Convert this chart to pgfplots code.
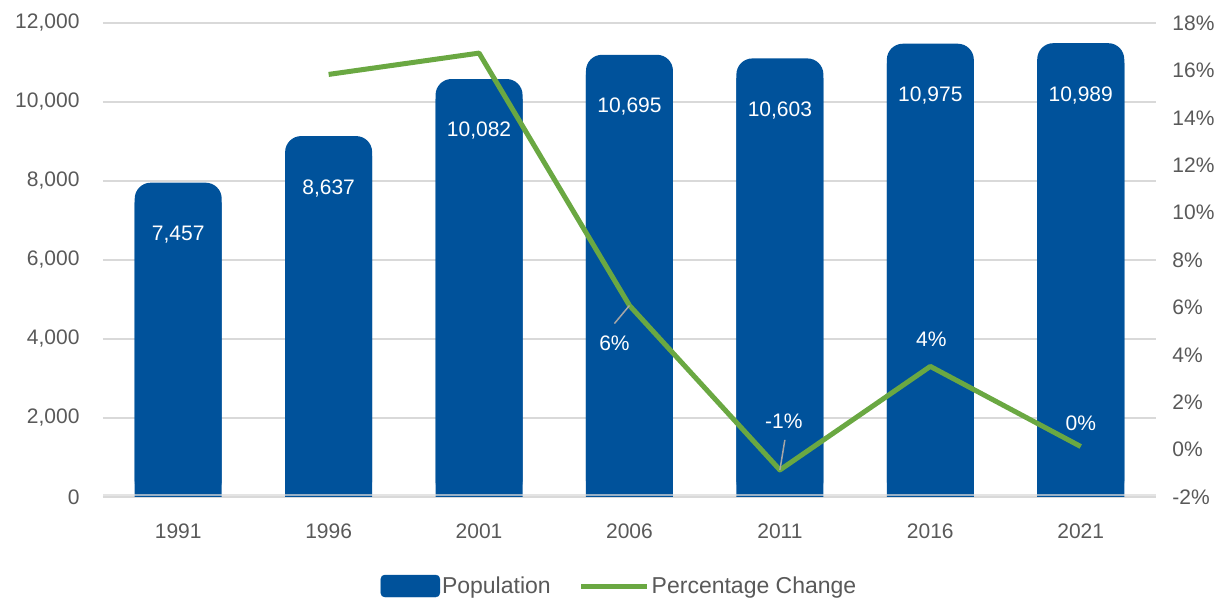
\documentclass[border=0pt]{standalone}
\usepackage{pgfplots}
\pgfplotsset{compat=1.18}
\usepackage{pgfplotstable}
\usepackage{fontspec}
\setmainfont{Liberation Sans}
\definecolor{popblue}{RGB}{0,82,155}
\definecolor{pctgreen}{RGB}{106,168,66}
\definecolor{gridgrey}{RGB}{217,217,217}
\definecolor{ticktext}{RGB}{89,89,89}
\definecolor{leadergrey}{RGB}{166,166,166}

\pgfplotstableread{
x year pop
0 1991 7457
1 1996 8637
2 2001 10082
3 2006 10695
4 2011 10603
5 2016 10975
6 2021 10989
}\popdata

\pgfplotstableread{
x pct
1 15.83
2 16.73
3 6.08
4 -0.86
5 3.51
6 0.13
}\pctdata

\begin{document}
\begin{tikzpicture}
\useasboundingbox (0,0) rectangle (1226pt,597pt);
\pgfplotsset{
  common/.style={
    at={(103pt,100pt)}, anchor=south west,
    scale only axis, width=1053pt, height=474pt,
    xmin=-0.5, xmax=6.5,
    axis line style={draw=none},
    major tick length=0pt,
    /pgf/number format/assume math mode=true,
    tick label style={font=\fontsize{21}{25}\selectfont, text=ticktext},
  },
  pctlab/.style n args={2}{only marks, mark=none, forget plot,
    point meta=explicit symbolic, nodes near coords,
    nodes near coords style={anchor=center, xshift=#1, yshift=#2, text=white, font=\fontsize{21}{25}\selectfont}},
}
\begin{axis}[common,
  ymin=0, ymax=12000,
  ytick={0,2000,...,12000},
  scaled y ticks=false,
  /pgf/number format/1000 sep={,},
  ymajorgrids, grid style={gridgrey, line width=1.5pt},
  xtick={0,...,6},
  xticklabels={1991,1996,2001,2006,2011,2016,2021},
  xticklabel style={yshift=-23pt},
  yticklabel style={xshift=-20pt},
]
\addplot[ybar, bar width=87pt, bar shift=0pt, fill=popblue, draw=none,
  rounded corners=16pt,
  nodes near coords, point meta=\thisrow{pop},
  nodes near coords style={anchor=center, yshift=-52pt, text=white, font=\fontsize{21}{25}\selectfont, rounded corners=0pt}]
  table[x=x, y expr=\thisrow{pop}+500] {\popdata};
\addplot[ybar, bar width=87pt, bar shift=0pt, fill=popblue, draw=none, forget plot]
  table[x=x, y=pop] {\popdata};
\addplot[gridgrey, opacity=0.7, line width=1.5pt, forget plot] coordinates {(-0.5,50) (6.5,50)};
\end{axis}
\begin{axis}[common,
  ymin=-2, ymax=18,
  ytick={-2,0,...,18},
  yticklabel={\pgfmathprintnumber{\tick}\%},
  xtick=\empty,
  yticklabel style={xshift=13pt},
  axis y line*=right,
  legend columns=2,
  legend style={at={(0.5,0)}, anchor=center, yshift=-89pt, xshift=-10pt,
    draw=none, fill=none, font=\fontsize{23}{27}\selectfont, text=ticktext,
    nodes={inner sep=2pt},
    /tikz/every even column/.append style={column sep=26pt}},
]
\addlegendimage{legend image code/.code={\fill[popblue, rounded corners=4pt] (0pt,-11pt) rectangle (59pt,11pt);}}
\addlegendentry{Population}
\addplot[pctgreen, line width=5pt, line join=round, mark=none,
  legend image code/.code={\draw[pctgreen, line width=5pt, line cap=round] (2.5pt,0pt) -- (51.5pt,0pt); \path (0pt,0pt) -- (66pt,0pt);}]
  table[x=x, y=pct] {\pctdata};
\addlegendentry{Percentage Change}
\addplot[leadergrey, line width=1.5pt, forget plot] coordinates {(3,6.08) (2.9,5.32)};
\addplot[leadergrey, line width=1.5pt, forget plot] coordinates {(4,-0.86) (4.033,0.41)};
\addplot[pctlab={-15pt}{-38pt}] coordinates {(3,6.08) [6\%]};
\addplot[pctlab={4pt}{49pt}] coordinates {(4,-0.86) [-1\%]};
\addplot[pctlab={1pt}{27pt}] coordinates {(5,3.51) [4\%]};
\addplot[pctlab={0pt}{23pt}] coordinates {(6,0.13) [0\%]};
\end{axis}
\end{tikzpicture}
\end{document}
